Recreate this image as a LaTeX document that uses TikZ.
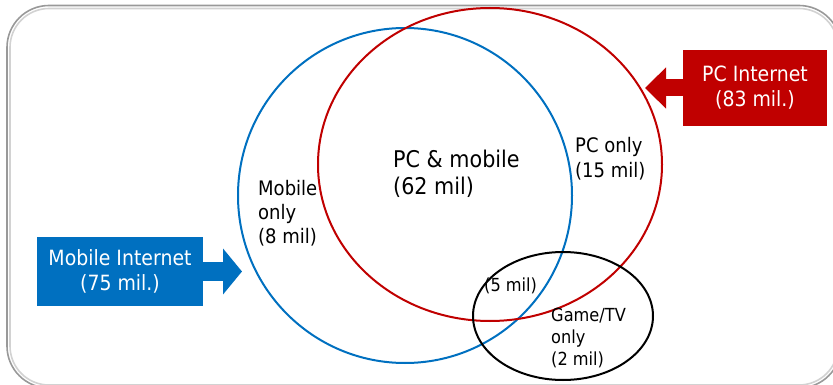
\documentclass[tikz,border=0pt]{standalone}
\usepackage{fontspec}
\setmainfont{DejaVu Sans}[FakeStretch=0.9]
\usepackage{tikz}
\usetikzlibrary{positioning,calc}
\usetikzlibrary{arrows.meta}
\definecolor{MobBlue}{RGB}{0,112,192}
\definecolor{PcRed}{RGB}{192,0,0}
\tikzset{
  venn/.style={line width=2pt},
  lbl/.style={anchor=north west,inner sep=0pt,align=left,text=black},
  infobox/.style={inner sep=0pt,align=center,text=white},
  fatarrow/.style={line width=#1},
}
\begin{document}
\begin{tikzpicture}[x=1pt,y=-1pt]
\useasboundingbox (0,0) rectangle (833,385);
\draw[gray!80,line width=1.6pt,rounded corners=42pt] (7,5.5) rectangle (841,388);
\draw[gray!35,line width=1.6pt,rounded corners=39pt] (10,8.5) rectangle (838,385);
\coordinate (cmob) at (405,195.5);
\coordinate (cpc) at (490,164.5);
\coordinate (cgame) at (563,316);
\draw[venn,MobBlue] (cmob) ellipse [x radius=167,y radius=167.5];
\draw[venn,PcRed] (cpc) ellipse [x radius=172,y radius=156.5];
\draw[venn,black] (cgame) ellipse [x radius=90,y radius=64];
\node[infobox,fill=MobBlue,minimum width=166pt,minimum height=69pt,
  font=\fontsize{21}{25}\selectfont] (mobbox) at (120,271.5) {Mobile Internet\\(75 mil.)};
\node[infobox,fill=PcRed,minimum width=144pt,minimum height=76pt,
  font=\fontsize{21}{25}\selectfont] (pcbox) at (755,88) {PC Internet\\(83 mil.)};
\coordinate (mobtip) at (242,271.5);
\coordinate (pctip) at (645,88);
\draw[fatarrow=19pt,MobBlue,-{Triangle[length=19pt,width=45pt]}] (mobbox.east) -- (mobtip);
\draw[fatarrow=17pt,PcRed,-{Triangle[length=21pt,width=40pt]}] (pcbox.west) -- (pctip);
\node[lbl,font=\fontsize{23}{27}\selectfont] (both) at (393,149.5) {PC \& mobile\\(62 mil)};
\node[lbl,font=\fontsize{20}{24}\selectfont] (mobonly) at (258,180) {Mobile\\only\\(8 mil)};
\node[lbl,font=\fontsize{20}{25}\selectfont] (pconly) at (575,137) {PC only\\(15 mil)};
\node[lbl,font=\fontsize{18}{22}\selectfont] (five) at (484,278) {(5 mil)};
\node[lbl,font=\fontsize{18}{22}\selectfont] (gameonly) at (551,308) {Game/TV\\only\\(2 mil)};
\end{tikzpicture}
\end{document}
